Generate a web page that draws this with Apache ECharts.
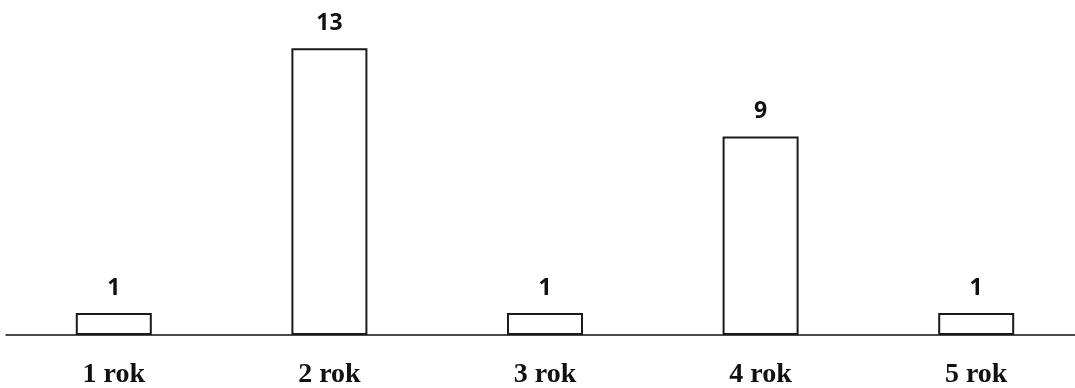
<!DOCTYPE html>
<html>
<head>
<meta charset="utf-8">
<script src="https://cdn.jsdelivr.net/npm/echarts@6/dist/echarts.min.js"></script>
<style>
html,body{margin:0;padding:0;background:#fff;}
#chart{width:1075px;height:388px;}
</style>
</head>
<body>
<div id="chart"></div>
<script>
const categories = ['1 rok', '2 rok', '3 rok', '4 rok', '5 rok'];
const values = [1, 13, 1, 9, 1];

const chart = echarts.init(document.getElementById('chart'), null, {renderer: 'canvas'});
chart.setOption({
  animation: false,
  backgroundColor: '#ffffff',
  grid: {left: 6, width: 1078, top: 4, bottom: 53, outerBoundsMode: 'none', containLabel: false},
  xAxis: {
    type: 'category',
    data: categories,
    axisLine: {show: true, lineStyle: {color: '#111', width: 1.5}},
    axisTick: {show: false},
    axisLabel: {
      margin: 26,
      color: '#111',
      fontFamily: 'Liberation Serif',
      fontWeight: 'bold',
      fontSize: 28
    }
  },
  yAxis: {
    type: 'value',
    min: 0,
    max: 15,
    show: false,
    splitLine: {show: false}
  },
  series: [{
    type: 'bar',
    data: values,
    barWidth: 76,
    itemStyle: {color: '#ffffff', borderColor: '#1a1a1a', borderWidth: 2},
    label: {
      show: true,
      position: 'top',
      distance: 13,
      color: '#111',
      fontFamily: 'Open Sans',
      fontWeight: 'bold',
      fontSize: 23
    }
  }]
});
</script>
</body>
</html>
